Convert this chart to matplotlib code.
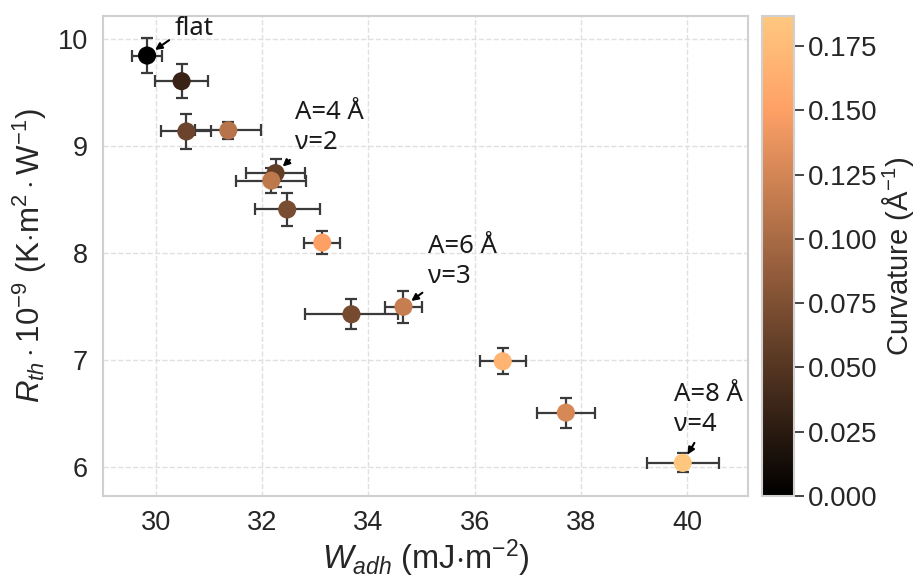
import numpy as np
import matplotlib
matplotlib.use('Agg')
import matplotlib.pyplot as plt
import seaborn as sns

# values
w_adh = [29.83, 30.48, 30.57, 31.36, 32.25, 32.17, 32.47, 33.13, 33.68, 34.66, 36.53, 37.72, 39.92]
w_err = [0.28, 0.50, 0.47, 0.62, 0.55, 0.66, 0.61, 0.34, 0.88, 0.35, 0.43, 0.54, 0.68]
r_th = [9.85, 9.61, 9.14, 9.15, 8.75, 8.68, 8.41, 8.10, 7.43, 7.50, 6.99, 6.51, 6.04]
r_err = [0.16, 0.16, 0.16, 0.08, 0.13, 0.12, 0.15, 0.11, 0.14, 0.15, 0.12, 0.14, 0.09]
curv = [0.0, 0.033, 0.064, 0.108, 0.058, 0.112, 0.072, 0.150, 0.070, 0.117, 0.168, 0.127, 0.185]
cbar_ticks = [0.0, 0.025, 0.05, 0.075, 0.1, 0.125, 0.15, 0.175]

sns.set_style('whitegrid', {'grid.linestyle': '--', 'axes.edgecolor': '#d0d0d0'})
plt.rcParams['font.family'] = ['Liberation Sans', 'DejaVu Sans']
plt.rcParams['mathtext.fontset'] = 'custom'
plt.rcParams['mathtext.rm'] = 'Liberation Sans'
plt.rcParams['mathtext.it'] = 'Liberation Sans:italic'

fig = plt.figure(figsize=(9.23, 5.81), dpi=100)
ax = fig.add_axes([0.1116, 0.1463, 0.6988, 0.8262])
cax = fig.add_axes([0.8256, 0.1463, 0.0345, 0.8262])

cmap = plt.get_cmap('copper')
norm = plt.Normalize(0, 0.1867)

ax.errorbar(w_adh, r_th, xerr=w_err, yerr=r_err, fmt='none', ecolor='#3a3a3a',
            elinewidth=1.6, capsize=4, capthick=1.6, zorder=2)
sc = ax.scatter(w_adh, r_th, c=curv, cmap=cmap, norm=norm, s=170, zorder=3, edgecolors='none')

ax.set_xlim(29.0, 41.15)
ax.set_ylim(5.73, 10.22)
ax.set_xticks([30, 32, 34, 36, 38, 40])
ax.set_yticks([6, 7, 8, 9, 10])
ax.tick_params(labelsize=19.5, colors='#262626', length=0)
ax.tick_params(axis='y', pad=11)
ax.tick_params(axis='x', pad=10)
ax.grid(color='#e0e0e0', linestyle='--', linewidth=1)
for s in ax.spines.values():
    s.set_color('#d0d0d0')
    s.set_linewidth(1.5)

ax.set_xlabel(r'$W_{adh}$ (mJ$\cdot$m$^{-2}$)', fontsize=23.5, color='#262626', labelpad=1)
ax.set_ylabel(r'$R_{th}\cdot10^{-9}$ (K$\cdot$m$^2\cdot$W$^{-1}$)', fontsize=22.5, color='#262626', labelpad=6)

ann_font = {'family': ['Noto Sans', 'DejaVu Sans'], 'size': 18.5, 'color': '#1a1a1a'}
arrow = dict(arrowstyle='-|>', color='black', lw=1.5, mutation_scale=10, shrinkB=7)

ax.annotate('flat', xy=(w_adh[0], r_th[0]), xytext=(30.35, 10.1), ha='left', va='center',
            arrowprops=dict(arrow, relpos=(0.0, 0.2)), **ann_font)
ax.annotate('A=4 Å\nν=2', xy=(w_adh[4], r_th[4]), xytext=(32.62, 8.92), ha='left', va='bottom',
            linespacing=1.25, arrowprops=dict(arrow, relpos=(0.0, 0.0)), **ann_font)
ax.annotate('A=6 Å\nν=3', xy=(w_adh[9], r_th[9]), xytext=(35.12, 7.67), ha='left', va='bottom',
            linespacing=1.25, arrowprops=dict(arrow, relpos=(0.0, 0.0)), **ann_font)
ax.annotate('A=8 Å\nν=4', xy=(w_adh[12], r_th[12]), xytext=(39.75, 6.28), ha='left', va='bottom',
            linespacing=1.25, arrowprops=dict(arrow, relpos=(0.35, 0.0)), **ann_font)

cb = fig.colorbar(sc, cax=cax, ticks=cbar_ticks)
cb.ax.tick_params(labelsize=20, colors='#262626', length=7, width=1.2, direction='out', pad=3)
cb.outline.set_edgecolor('#d0d0d0')
cb.outline.set_linewidth(1.5)
cb.set_label('Curvature (Å$^{-1}$)', fontsize=21, color='#262626', labelpad=2)

fig.savefig('out.png', dpi=100)
